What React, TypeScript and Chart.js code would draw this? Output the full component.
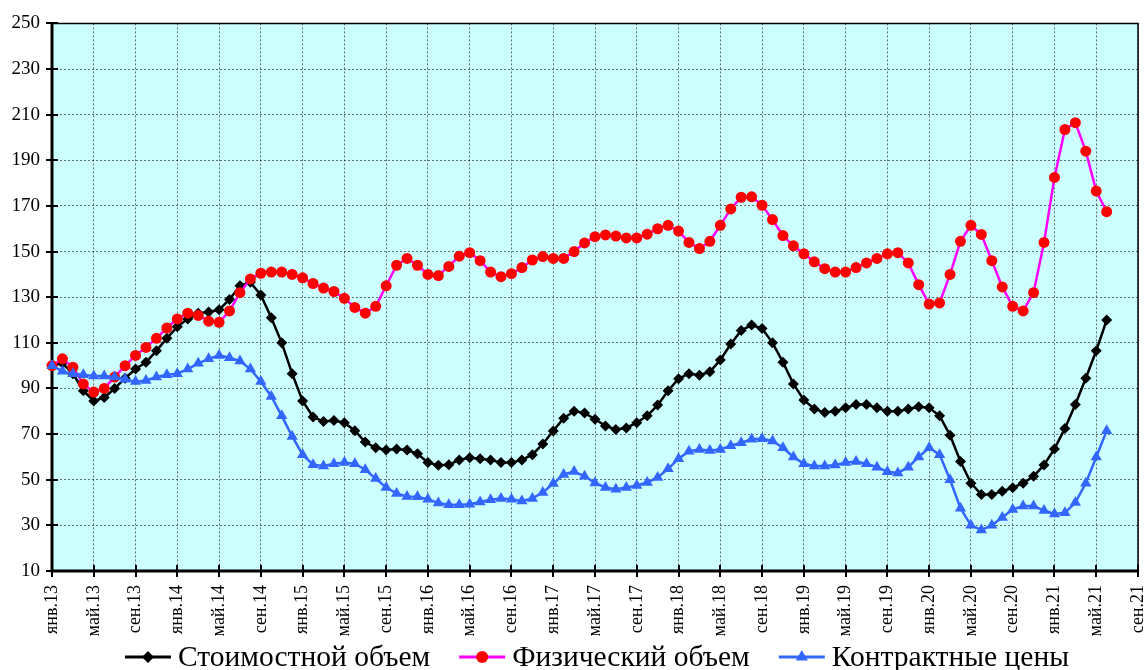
import React, { useEffect, useRef } from 'react';
import { Chart, registerables } from 'chart.js';

Chart.register(...registerables);

// Tick labels on the x axis (every 4th month, from янв.13 to сен.21)
const tickLabels = [
  'янв.13', 'май.13', 'сен.13',
  'янв.14', 'май.14', 'сен.14',
  'янв.15', 'май.15', 'сен.15',
  'янв.16', 'май.16', 'сен.16',
  'янв.17', 'май.17', 'сен.17',
  'янв.18', 'май.18', 'сен.18',
  'янв.19', 'май.19', 'сен.19',
  'янв.20', 'май.20', 'сен.20',
  'янв.21', 'май.21', 'сен.21',
];

const seriesNames = ['Стоимостной объем', 'Физический объем', 'Контрактные цены'];

// Monthly values, starting with янв.13
const valueVolume = [
  100, 101, 96.5, 89, 84.5, 86, 90, 94.5, 98.5, 101.5,
  106.5, 112, 117, 120.5, 123, 123.5, 124.5, 129, 135, 136.5,
  131, 121, 110, 96.5, 84.5, 77.5, 75.5, 76, 75, 71.5,
  66.5, 64, 63, 63.5, 63, 61.4, 57.5, 56.3, 56.6, 58.7,
  59.6, 59.2, 58.7, 57.5, 57.5, 58.7, 61, 65.7, 71.4, 77,
  80, 79.3, 76.5, 73.6, 72, 72.7, 75, 78, 82.7, 89,
  94.3, 96.5, 95.8, 97.3, 102.5, 109.5, 115.4, 117.8, 116.3, 110,
  101.5, 92, 85, 81, 79.5, 80, 81.5, 83, 83, 81.5,
  80, 80, 81, 82, 81.5, 78, 69.5, 58, 48.5, 43.5,
  43.5, 45, 46.5, 48.5, 51.5, 56.5, 63.5, 72.5, 83, 94.5,
  106.5, 120,
];

const physicalVolume = [
  100, 103, 99.3, 92, 88.4, 90, 95, 100, 104.5, 108,
  112, 116.5, 120.5, 123, 122, 119.5, 119, 124, 132, 138,
  140.5, 141, 141, 140, 138.5, 136, 134, 132.5, 129.5, 125.5,
  123, 126, 135, 144, 147, 144, 140, 139.5, 143.5, 148,
  149.5, 146, 141, 139, 140.3, 143, 146.3, 147.8, 147, 147,
  150, 153.8, 156.5, 157.3, 156.8, 156, 156, 157.6, 160, 161.5,
  159, 154, 151.3, 154.5, 161.5, 168.7, 173.8, 174, 170.3, 164,
  157, 152.5, 149, 145.5, 142.5, 141, 141, 143, 145, 147,
  149, 149.5, 145, 135.5, 127, 127.5, 140, 154.5, 161.5, 157.5,
  146, 134.5, 126, 124, 132, 154, 182.5, 203.5, 206.5, 194,
  176.5, 167.5,
];

const contractPrices = [
  100, 97.5, 96.5, 96, 95.5, 95.5, 95, 94, 93, 93.5,
  95, 96, 96.5, 98.5, 101, 103, 104.5, 103.5, 102, 98.5,
  93, 86.5, 78, 69, 61, 56.6, 56, 57, 57.5, 57,
  54.4, 50.5, 46.6, 44, 42.7, 42.5, 41.4, 39.8, 39, 39,
  39.3, 40.2, 41.2, 41.8, 41.4, 40.7, 41.8, 44.4, 48.3, 52.3,
  53.6, 51.5, 48.6, 46.6, 45.8, 46.6, 47.5, 48.8, 51, 54.8,
  59.2, 62.5, 63.2, 62.8, 63.3, 64.9, 66.2, 67.7, 68, 67,
  64, 60, 57, 56, 56, 56.5, 57.5, 58, 57, 55.5,
  53.5, 53, 55.5, 60, 64, 61, 50, 37.5, 30, 28,
  30, 33.5, 37, 38.5, 38.5, 36.5, 35, 35.5, 40, 48.5,
  60, 71.5,
];

const FONT = "'Liberation Serif', 'Times New Roman', serif";

type Style = { line: string; fill: string; shape: 'diamond' | 'circle' | 'triangle'; lw: number; r: number };
const styles: Style[] = [
  { line: '#000000', fill: '#000000', shape: 'diamond', lw: 2.5, r: 5.5 },
  { line: '#FF00FF', fill: '#FF0000', shape: 'circle', lw: 2.5, r: 5.5 },
  { line: '#3366FF', fill: '#3366FF', shape: 'triangle', lw: 2.5, r: 6.5 },
];

function drawMarker(ctx: CanvasRenderingContext2D, s: Style, x: number, y: number) {
  ctx.fillStyle = s.fill;
  ctx.beginPath();
  if (s.shape === 'circle') {
    ctx.arc(x, y, s.r, 0, Math.PI * 2);
  } else if (s.shape === 'diamond') {
    ctx.moveTo(x, y - s.r);
    ctx.lineTo(x + s.r, y);
    ctx.lineTo(x, y + s.r);
    ctx.lineTo(x - s.r, y);
    ctx.closePath();
  } else {
    for (let k = 0; k < 3; k++) {
      const a = (k * 2 * Math.PI) / 3;
      const px = x + Math.sin(a) * s.r;
      const py = y - Math.cos(a) * s.r;
      if (k === 0) ctx.moveTo(px, py);
      else ctx.lineTo(px, py);
    }
    ctx.closePath();
  }
  ctx.fill();
}

const decorPlugin = {
  id: 'decor',
  beforeDraw(chart: any) {
    const { ctx, chartArea: a } = chart;
    ctx.save();
    ctx.fillStyle = '#FFFFFF';
    ctx.fillRect(0, 0, chart.width, chart.height);
    ctx.fillStyle = '#CCFFFF';
    ctx.fillRect(a.left, a.top, a.right - a.left, a.bottom - a.top);
    ctx.restore();
  },
  beforeDatasetsDraw(chart: any) {
    const { ctx, chartArea: a, scales } = chart;
    ctx.save();
    ctx.strokeStyle = '#000000';
    ctx.lineWidth = 1.5;
    ctx.beginPath();
    ctx.moveTo(a.left, a.top);
    ctx.lineTo(a.right, a.top);
    ctx.lineTo(a.right, a.bottom);
    ctx.stroke();
    ctx.lineWidth = 2;
    ctx.beginPath();
    scales.y.ticks.forEach((t: any) => {
      const y = Math.round(scales.y.getPixelForValue(t.value));
      ctx.moveTo(a.left - 6, y);
      ctx.lineTo(a.left + 6, y);
    });
    scales.x.ticks.forEach((t: any) => {
      const x = Math.round(scales.x.getPixelForValue(t.value));
      ctx.moveTo(x, a.bottom - 6);
      ctx.lineTo(x, a.bottom + 6);
    });
    ctx.stroke();
    ctx.lineWidth = 3;
    ctx.beginPath();
    ctx.moveTo(a.left, a.top);
    ctx.lineTo(a.left, a.bottom);
    ctx.lineTo(a.right, a.bottom);
    ctx.stroke();
    ctx.restore();
  },
  afterDraw(chart: any) {
    const { ctx, chartArea: a } = chart;
    ctx.save();
    ctx.font = `29.5px ${FONT}`;
    ctx.textBaseline = 'middle';
    ctx.textAlign = 'left';
    const sample = 46;
    const gapText = 7;
    const gapItem = 29;
    const widths = seriesNames.map((n) => ctx.measureText(n).width);
    const total = widths.reduce((s, w) => s + sample + gapText + w, 0) + gapItem * (seriesNames.length - 1);
    let x = (a.left + a.right) / 2 + 2 - total / 2;
    const y = 657;
    seriesNames.forEach((name, i) => {
      const s = styles[i];
      ctx.strokeStyle = s.line;
      ctx.lineWidth = 3;
      ctx.beginPath();
      ctx.moveTo(x, y);
      ctx.lineTo(x + sample, y);
      ctx.stroke();
      drawMarker(ctx, { ...s, r: s.r + 0.5 }, x + sample / 2, y);
      ctx.fillStyle = '#000000';
      ctx.fillText(name, x + sample + gapText, y + 1);
      x += sample + gapText + widths[i] + gapItem;
    });
    ctx.restore();
  },
};

export default function App() {
  const ref = useRef<HTMLCanvasElement>(null);

  useEffect(() => {
    document.body.style.margin = '0';
    const toXY = (arr: number[]) => arr.map((v, i) => ({ x: i, y: v }));
    const all = [valueVolume, physicalVolume, contractPrices];
    const pointStyles = ['rectRot', 'circle', 'triangle'];
    const orders = [3, 2, 1];
    const chart = new Chart(ref.current as HTMLCanvasElement, {
      type: 'line',
      data: {
        datasets: all.map((arr, i) => ({
          label: seriesNames[i],
          data: toXY(arr),
          borderColor: styles[i].line,
          borderWidth: styles[i].lw,
          backgroundColor: styles[i].fill,
          pointBackgroundColor: styles[i].fill,
          pointBorderColor: styles[i].fill,
          pointBorderWidth: 0,
          pointRadius: styles[i].r,
          pointHoverRadius: styles[i].r,
          pointStyle: pointStyles[i] as any,
          tension: 0,
          fill: false,
          clip: false as any,
          order: orders[i],
        })),
      },
      options: {
        responsive: false,
        animation: false,
        devicePixelRatio: 1,
        layout: { padding: { top: 19, right: 8, left: 0, bottom: 0 } },
        plugins: {
          legend: { display: false },
          tooltip: { enabled: false },
        },
        scales: {
          x: {
            type: 'linear',
            min: 0,
            max: 104,
            ticks: {
              stepSize: 4,
              autoSkip: false,
              maxRotation: 90,
              minRotation: 90,
              padding: 14,
              color: '#000000',
              font: { family: FONT, size: 18 },
              callback: (v: any) => tickLabels[Math.round(Number(v) / 4)] ?? '',
            },
            grid: { color: 'rgba(0,0,0,0.55)', lineWidth: 1, drawTicks: false },
            border: { display: false, dash: [2, 2] },
            afterFit: (s: any) => {
              s.height = 99;
              s.paddingLeft = 0;
              s.paddingRight = 0;
            },
          },
          y: {
            min: 10,
            max: 250,
            ticks: {
              stepSize: 20,
              padding: 12,
              color: '#000000',
              font: { family: FONT, size: 19 },
            },
            grid: { color: 'rgba(0,0,0,0.55)', lineWidth: 1, drawTicks: false },
            border: { display: false, dash: [2, 2] },
            afterFit: (s: any) => {
              s.width = 52;
            },
          },
        },
      },
      plugins: [decorPlugin],
    });
    return () => chart.destroy();
  }, []);

  return (
    <div style={{ width: 1146, height: 670 }}>
      <canvas ref={ref} width={1146} height={670} style={{ display: 'block' }} />
    </div>
  );
}
